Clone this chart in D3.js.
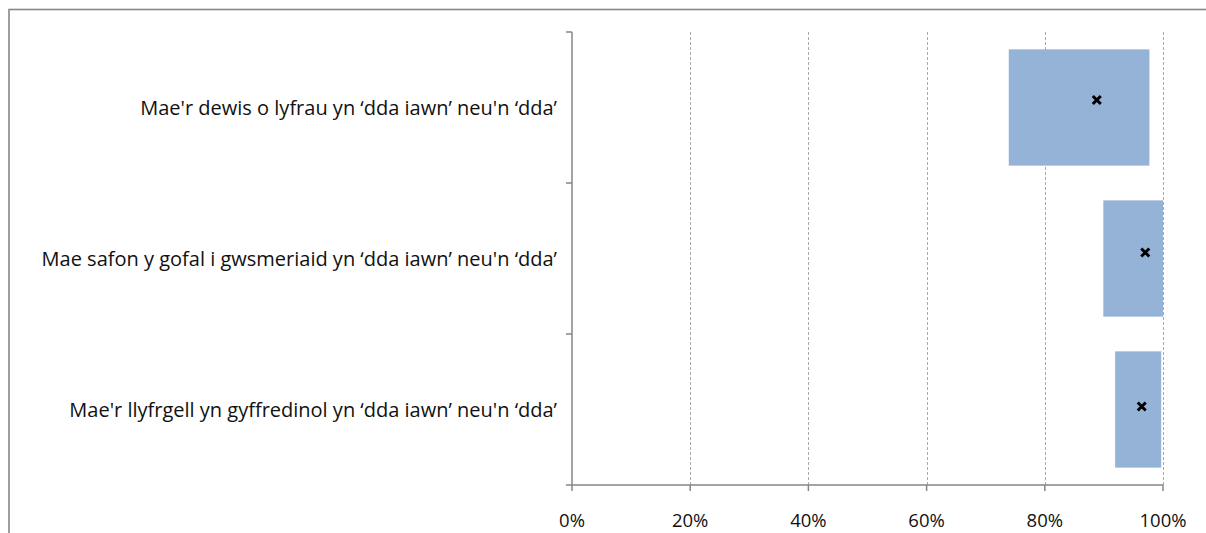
<!DOCTYPE html>
<html><head><meta charset="utf-8">
<script src="https://cdn.jsdelivr.net/npm/d3@7"></script>
<style>body{margin:0;background:#fff}svg{display:block}text{font-family:"Open Sans","Noto Sans",sans-serif;fill:#111}</style>
</head><body><svg id="c" width="1206" height="533"></svg>
<script>
const categories = [
  "Mae'r dewis o lyfrau yn ‘dda iawn’ neu'n ‘dda’",
  "Mae safon y gofal i gwsmeriaid yn ‘dda iawn’ neu'n ‘dda’",
  "Mae'r llyfrgell yn gyffredinol yn ‘dda iawn’ neu'n ‘dda’"
];
const minValues = [0.739, 0.899, 0.919];
const maxValues = [0.977, 1.0, 0.997];
const meanValues = [0.888, 0.970, 0.964];
const markerLevels = [2.55, 1.54, 0.52];
const xTicks = [0, 0.2, 0.4, 0.6, 0.8, 1.0];
const xTickLabels = ["0%", "20%", "40%", "60%", "80%", "100%"];

const svg = d3.select("#c");
svg.append("rect").attr("x", 9).attr("y", 9.5).attr("width", 1230).attr("height", 560)
  .attr("fill", "none").attr("stroke", "#878787").attr("stroke-width", 1.6);

const x = d3.scaleLinear().domain([0, 1]).range([572, 1163]);
const y = d3.scaleBand().domain(categories).range([32, 485]).padding(0);
const yM = d3.scaleLinear().domain([0, categories.length]).range([485, 32]);
const barFrac = 0.77;

// gridlines
svg.append("g").selectAll("line").data(xTicks.slice(1)).join("line")
  .attr("x1", d => Math.round(x(d)) + 0.5).attr("x2", d => Math.round(x(d)) + 0.5)
  .attr("y1", 32).attr("y2", 485)
  .attr("stroke", "#a9a9a9").attr("stroke-width", 1).attr("stroke-dasharray", "3,2");

// bars
svg.append("g").selectAll("rect").data(categories).join("rect")
  .attr("x", (d, i) => x(minValues[i]))
  .attr("width", (d, i) => x(maxValues[i]) - x(minValues[i]))
  .attr("y", d => y(d) + y.bandwidth() * (1 - barFrac) / 2)
  .attr("height", y.bandwidth() * barFrac)
  .attr("fill", "#95b3d7");

// axes
const ax = svg.append("g").attr("stroke", "#868686").attr("stroke-width", 1.5).attr("fill", "none");
ax.append("line").attr("x1", x(0)).attr("x2", x(0)).attr("y1", 32).attr("y2", 485);
ax.append("line").attr("x1", x(0)).attr("x2", x(1)).attr("y1", 485).attr("y2", 485);
const yBounds = categories.map(c => y(c)).concat([y(categories[categories.length - 1]) + y.bandwidth()]);
ax.selectAll(".yt").data(yBounds).join("line").attr("class", "yt")
  .attr("x1", x(0) - 6).attr("x2", x(0)).attr("y1", d => d).attr("y2", d => d);
ax.selectAll(".xt").data(xTicks).join("line").attr("class", "xt")
  .attr("x1", d => x(d)).attr("x2", d => x(d)).attr("y1", 485).attr("y2", 491);

// x tick labels
svg.append("g").selectAll("text").data(xTicks).join("text")
  .attr("x", d => x(d)).attr("y", 527).attr("text-anchor", "middle")
  .attr("font-size", 18.5).text((d, i) => xTickLabels[i]);

// category labels
svg.append("g").selectAll("text").data(categories).join("text")
  .attr("x", 557).attr("y", d => y(d) + y.bandwidth() / 2 + 7)
  .attr("text-anchor", "end").attr("font-size", 20).text(d => d);

// mean markers (x)
const ms = 4;
svg.append("g").selectAll("path").data(meanValues).join("path")
  .attr("d", (d, i) => {
    const cx = x(d), cy = yM(markerLevels[i]);
    return `M${cx - ms},${cy - ms}L${cx + ms},${cy + ms}M${cx - ms},${cy + ms}L${cx + ms},${cy - ms}`;
  })
  .attr("stroke", "#000").attr("stroke-width", 3).attr("fill", "none");
</script></body></html>
